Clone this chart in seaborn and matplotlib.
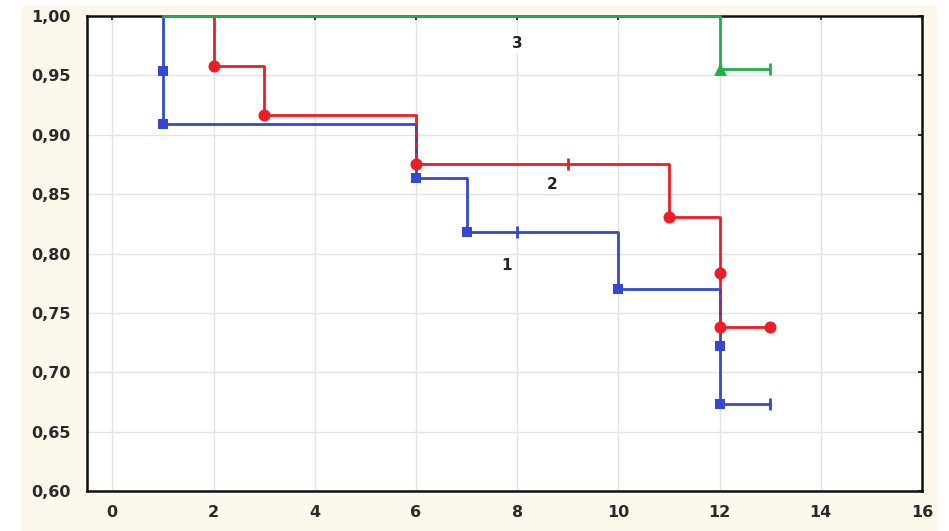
import numpy as np
import pandas as pd
import matplotlib
matplotlib.use("Agg")
import matplotlib.pyplot as plt
from matplotlib.patches import Rectangle
import seaborn as sns

# Survival estimates per group (event times and survival after each event)
g1_times = [1, 1, 6, 7, 10, 12, 12]
g1_surv = [0.954, 0.909, 0.864, 0.818, 0.770, 0.722, 0.673]
g1_cens_times = [8, 13]
g1_cens_surv = [0.818, 0.673]

g2_times = [2, 3, 6, 11, 12, 12, 13]
g2_surv = [0.958, 0.917, 0.875, 0.831, 0.784, 0.738, 0.738]
g2_cens_times = [9]
g2_cens_surv = [0.875]

g3_times = [12]
g3_surv = [0.955]
g3_cens_times = [13]
g3_cens_surv = [0.955]

start_time = 1
x_ticks = [0, 2, 4, 6, 8, 10, 12, 14, 16]
y_ticks = [0.60, 0.65, 0.70, 0.75, 0.80, 0.85, 0.90, 0.95, 1.00]
group_labels = ["1", "2", "3"]
label_pos_x = [7.8, 8.7, 8.0]
label_pos_y = [0.790, 0.858, 0.977]

BLUE = "#3546d0"
RED = "#ee1c25"
GREEN = "#1fb04a"

sns.set_theme(style="white")
plt.rcParams["font.family"] = ["DejaVu Sans"]

fig = plt.figure(figsize=(9.49, 5.31), dpi=100)
fig.patch.set_facecolor("white")
W, H = 949, 531
fig.patches.append(Rectangle((21 / W, 0), (938 - 21) / W, (531 - 5) / H,
                             transform=fig.transFigure, facecolor="#fdf8ec",
                             edgecolor="none", zorder=-10))
ax = fig.add_axes([87 / W, (H - 491) / H, (922 - 87) / W, (491 - 16) / H])
ax.set_facecolor("white")


def step_path(times, surv, cens_t, cens_s):
    t = [start_time] + list(times)
    s = [1.0] + list(surv)
    last_t = max(t[-1], max(cens_t))
    if last_t > t[-1]:
        t.append(last_t)
        s.append(s[-1])
    return pd.DataFrame({"t": t, "s": s})


paths = {
    "1": (step_path(g1_times, g1_surv, g1_cens_times, g1_cens_surv), BLUE),
    "2": (step_path(g2_times, g2_surv, g2_cens_times, g2_cens_surv), RED),
    "3": (step_path(g3_times, g3_surv, g3_cens_times, g3_cens_surv), GREEN),
}

for key in ["1", "2", "3"]:
    df, col = paths[key]
    sns.lineplot(data=df, x="t", y="s", ax=ax, estimator=None, sort=False,
                 drawstyle="steps-post", color=col, linewidth=2.0,
                 clip_on=False, zorder=3)

# Where the blue and red drops share the same vertical, show both colours
def drops(times, surv):
    out = []
    prev = 1.0
    for i, (t, s) in enumerate(zip(times, surv)):
        if i > 0 and times[i - 1] == t:
            out[-1] = (t, out[-1][1], s)
        elif s < prev:
            out.append((t, prev, s))
        prev = s
    return out

for t1, hi1, lo1 in drops(g1_times, g1_surv):
    for t2, hi2, lo2 in drops(g2_times, g2_surv):
        if t1 == t2:
            hi = min(hi1, hi2)
            lo = max(lo1, lo2)
            if hi > lo:
                ax.vlines(t1, lo, hi, colors=BLUE, linewidth=2.0,
                          linestyles=(0, (2, 2)), zorder=3.5)

# Event markers
sns.scatterplot(x=g1_times, y=g1_surv, ax=ax, marker="s", color=BLUE,
                s=55, edgecolor=BLUE, linewidth=0, zorder=5, clip_on=False)
sns.scatterplot(x=g2_times, y=g2_surv, ax=ax, marker="o", color=RED,
                s=75, edgecolor=RED, linewidth=0, zorder=5, clip_on=False)
sns.scatterplot(x=g3_times, y=g3_surv, ax=ax, marker="^", color=GREEN,
                s=85, edgecolor=GREEN, linewidth=0, zorder=5, clip_on=False)

# Censoring ticks
for ct, cs, col in [(g1_cens_times, g1_cens_surv, BLUE),
                    (g2_cens_times, g2_cens_surv, RED),
                    (g3_cens_times, g3_cens_surv, GREEN)]:
    ax.plot(ct, cs, linestyle="none", marker="|", markersize=9,
            markeredgewidth=2, color=col, zorder=5)

for lab, lx, ly in zip(group_labels, label_pos_x, label_pos_y):
    ax.text(lx, ly, lab, ha="center", va="center", fontsize=11,
            fontweight="bold", color="#222222", zorder=4,
            bbox=dict(facecolor="white", edgecolor="none", pad=1.5))

ax.set_xlim(-0.5, 16)
ax.set_ylim(0.60, 1.00)
ax.set_xticks(x_ticks)
ax.set_yticks(y_ticks)
ax.set_xticklabels([str(v) for v in x_ticks])
ax.set_yticklabels([f"{v:.2f}".replace(".", ",") for v in y_ticks])
ax.set_xlabel("")
ax.set_ylabel("")
ax.grid(True, color="#e3e3e3", linewidth=1.0, zorder=0)
ax.set_axisbelow(True)
for sp in ax.spines.values():
    sp.set_visible(True)
    sp.set_color("#111111")
    sp.set_linewidth(1.8)
ax.tick_params(axis="both", which="both", direction="in", length=3,
               width=1.2, color="#111111", top=True, right=True,
               labelsize=11.5, labelcolor="#2a2a2a")
ax.tick_params(axis="y", pad=12)
ax.tick_params(axis="x", pad=10)
for lbl in ax.get_xticklabels() + ax.get_yticklabels():
    lbl.set_fontweight("bold")

fig.savefig("out.png", dpi=100, facecolor=fig.get_facecolor())
